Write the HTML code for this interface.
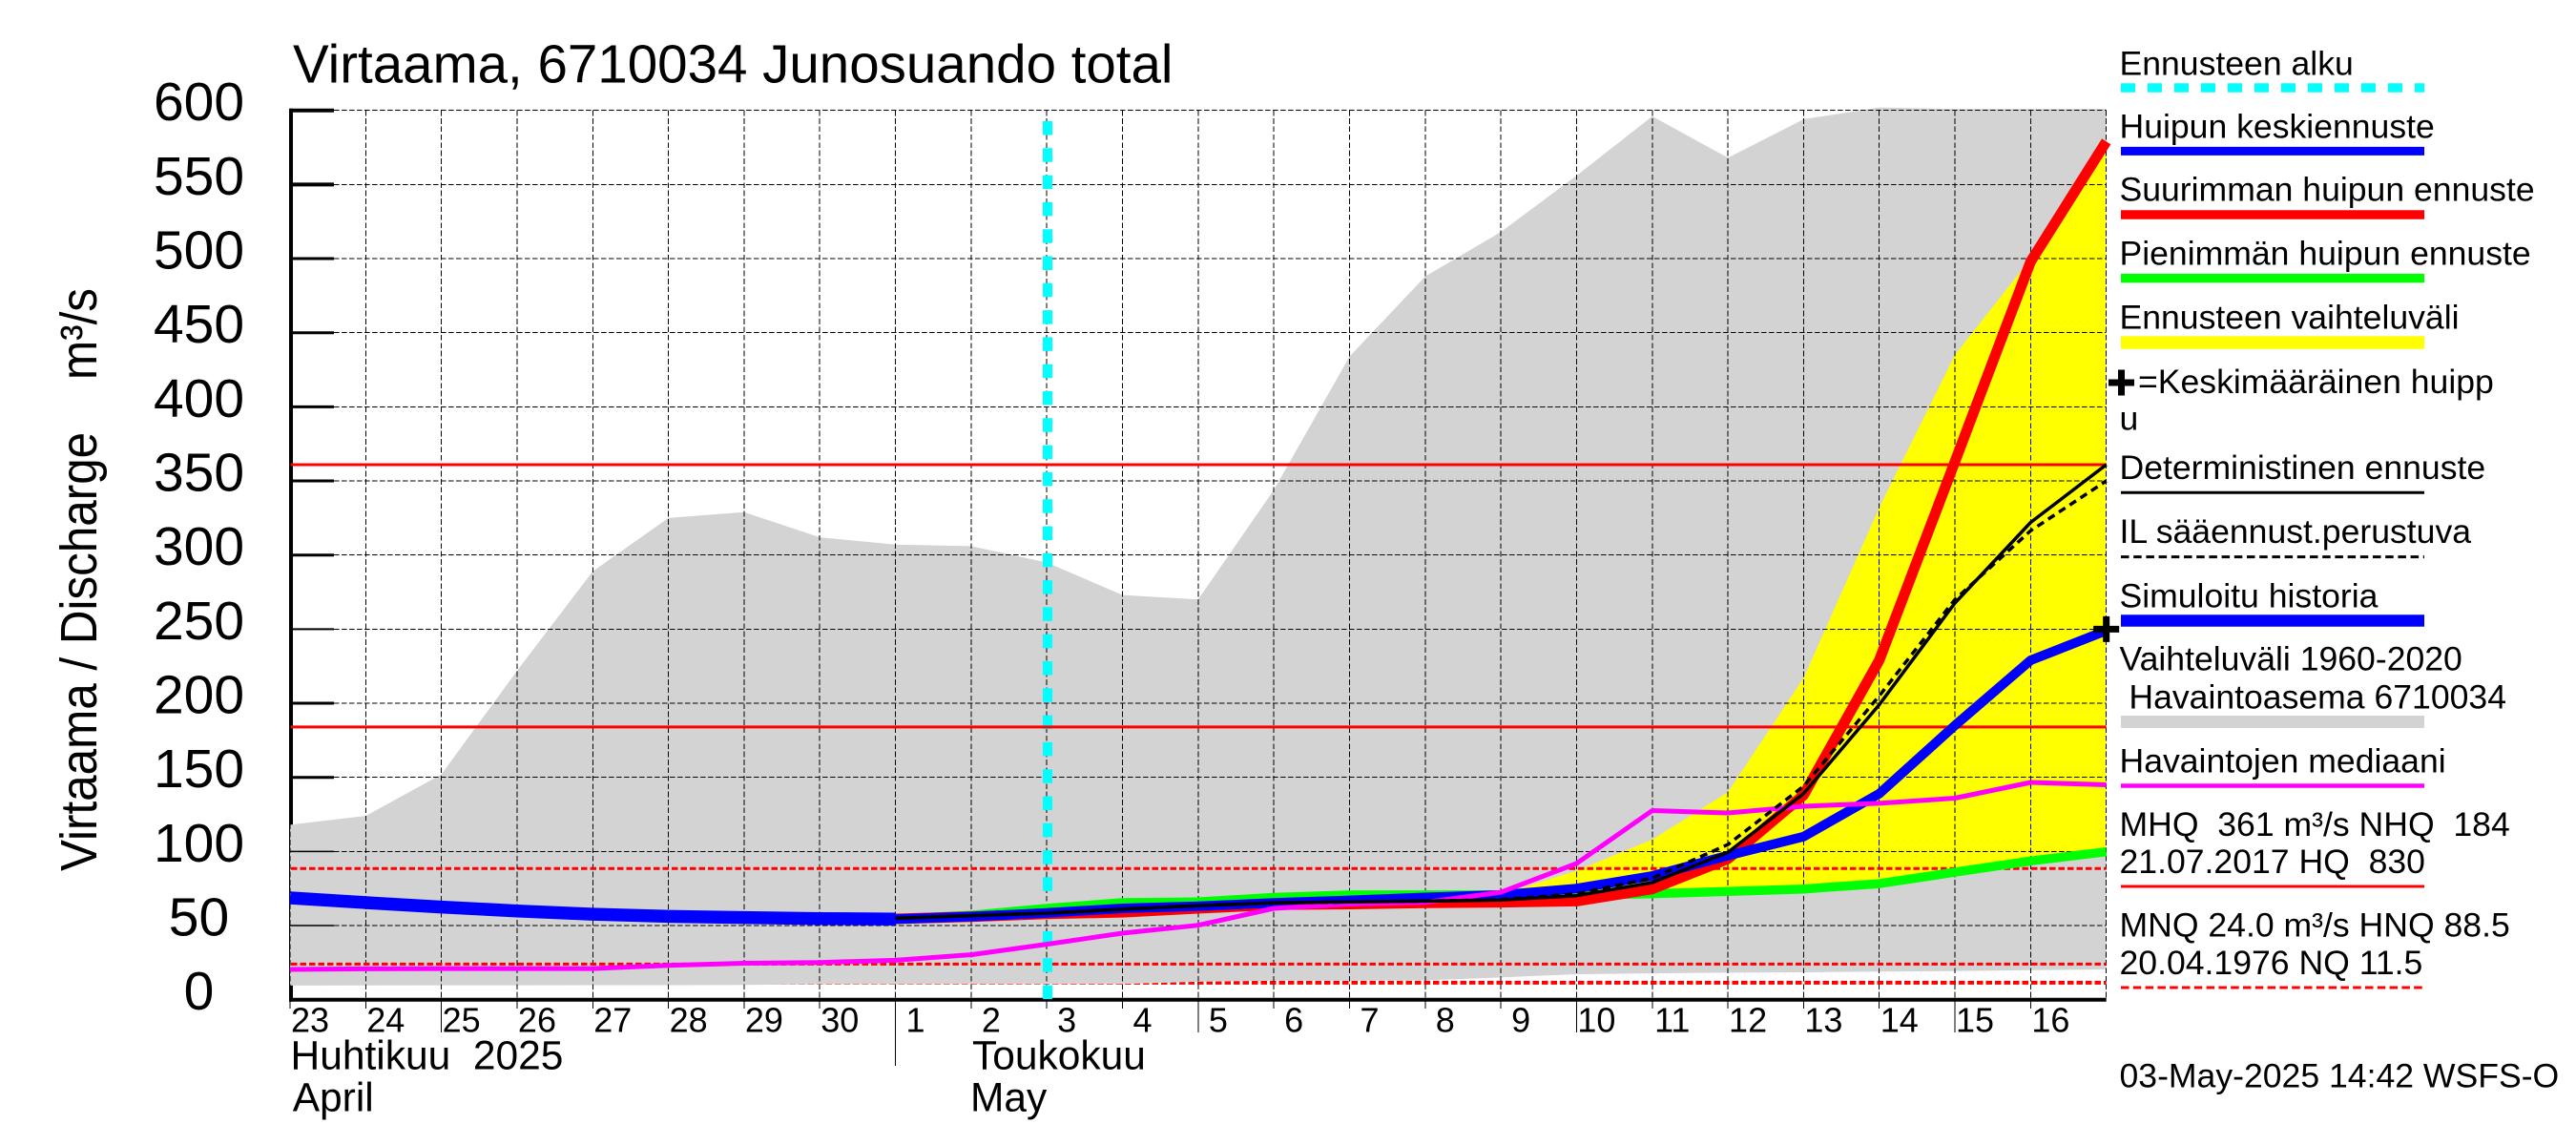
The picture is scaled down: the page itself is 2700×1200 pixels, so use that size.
<!DOCTYPE html>
<html lang="fi">
<head>
<meta charset="utf-8">
<title>Virtaama, 6710034 Junosuando total</title>
<style>
html,body{margin:0;padding:0;background:#fff;}
svg{display:block;}
text{font-family:"Liberation Sans",Arial,sans-serif;fill:#000;white-space:pre;}
.lg{font-size:35.6px;}
</style>
</head>
<body>
<svg id="chart" xmlns="http://www.w3.org/2000/svg" width="2700" height="1200" viewBox="0 0 2700 1200">
  <rect x="0" y="0" width="2700" height="1200" fill="#fff"/>
  <text x="307" y="86.7" font-size="56.5">Virtaama, 6710034 Junosuando total</text>
  <text transform="translate(101,913) rotate(-90)" font-size="54" textLength="611" lengthAdjust="spacingAndGlyphs">Virtaama / Discharge    m³/s</text>
  <g id="plot"></g>
  <g id="xlabels"></g>
  <g id="ylabels"></g>
  <text x="304.5" y="1120.5" font-size="42.5">Huhtikuu  2025</text>
  <text x="306.7" y="1164.5" font-size="42.5">April</text>
  <text x="1019" y="1120.5" font-size="42.5">Toukokuu</text>
  <text x="1017" y="1164.5" font-size="42.5">May</text>

  <g>
    <text class="lg" x="2221.5" y="78.5">Ennusteen alku</text>
    <line x1="2223" x2="2541" y1="92" y2="92" stroke="#00ffff" stroke-width="9.5" stroke-dasharray="15 13"/>
    <text class="lg" x="2221.5" y="144.7">Huipun keskiennuste</text>
    <line x1="2223" x2="2541" y1="158.4" y2="158.4" stroke="#0000ff" stroke-width="9"/>
    <text class="lg" x="2221.5" y="210.5">Suurimman huipun ennuste</text>
    <line x1="2223" x2="2541" y1="225" y2="225" stroke="#ff0000" stroke-width="9.5"/>
    <text class="lg" x="2221.5" y="277.5">Pienimmän huipun ennuste</text>
    <line x1="2223" x2="2541" y1="291.6" y2="291.6" stroke="#00ff00" stroke-width="9.5"/>
    <text class="lg" x="2221.5" y="344.4">Ennusteen vaihteluväli</text>
    <line x1="2223" x2="2541" y1="359" y2="359" stroke="#ffff00" stroke-width="13.4"/>
    <g>
      <rect x="2210" y="397.5" width="27" height="7" fill="#000"/>
      <rect x="2220" y="387.5" width="7" height="27" fill="#000"/>
    </g>
    <text class="lg" x="2241" y="412">=Keskimääräinen huipp</text>
    <text class="lg" x="2221.5" y="450.4">u</text>
    <text class="lg" x="2221.5" y="502">Deterministinen ennuste</text>
    <line x1="2223" x2="2541" y1="516.3" y2="516.3" stroke="#000" stroke-width="3"/>
    <text class="lg" x="2221.5" y="569">IL sääennust.perustuva</text>
    <line x1="2223" x2="2541" y1="583.6" y2="583.6" stroke="#000" stroke-width="3" stroke-dasharray="8.5 4.7"/>
    <text class="lg" x="2221.5" y="636.4">Simuloitu historia</text>
    <line x1="2223" x2="2541" y1="650.5" y2="650.5" stroke="#0000ff" stroke-width="12.6"/>
    <text class="lg" x="2221.5" y="702.6">Vaihteluväli 1960-2020</text>
    <text class="lg" x="2221.5" y="742.4"> Havaintoasema 6710034</text>
    <line x1="2223" x2="2541" y1="756.5" y2="756.5" stroke="#d3d3d3" stroke-width="13"/>
    <text class="lg" x="2221.5" y="809.3">Havaintojen mediaani</text>
    <line x1="2223" x2="2541" y1="823.5" y2="823.5" stroke="#ff00ff" stroke-width="4.6"/>
    <text class="lg" x="2221.5" y="876">MHQ  361 m³/s NHQ  184</text>
    <text class="lg" x="2221.5" y="915">21.07.2017 HQ  830</text>
    <line x1="2223" x2="2541" y1="929" y2="929" stroke="#ff0000" stroke-width="3"/>
    <text class="lg" x="2221.5" y="981.5">MNQ 24.0 m³/s HNQ 88.5</text>
    <text class="lg" x="2221.5" y="1021">20.04.1976 NQ 11.5</text>
    <line x1="2223" x2="2541" y1="1035" y2="1035" stroke="#ff0000" stroke-width="3" stroke-dasharray="8.5 4.3"/>
  </g>
  <text class="lg" x="2221.5" y="1139.6">03-May-2025 14:42 WSFS-O</text>
</svg>
<script>
// Day labels along the x axis (23 Apr .. 16 May); the plot runs to the start of 17 May.
const dayLabels = ['23','24','25','26','27','28','29','30','1','2','3','4','5','6','7','8','9','10','11','12','13','14','15','16'];
const yTickValues = [0,50,100,150,200,250,300,350,400,450,500,550,600];
const longTickDays = [2,12,17,22];
const monthSeparatorDays = [8];
const forecastStartDay = 10.01;
const highLevels = [361,184];
const lowLevels = [88.5,24];
const minLevel = [11.5];
const peakMarker = [250];

// Daily values, m3/s; null where a series has no data.
const rangeUpper = [118,124,152,222,289,325,329,312,307,306,295,273,270,344,434,488,518,556,596,568,594,602,601,601,601];
const rangeLower = [9.5,9.6,9.7,9.7,9.8,9.8,9.9,10.4,10.4,10.5,10.5,10.6,12.1,12.8,12.9,13,15,17.2,17.8,18.2,18.5,18.9,19.3,19.9,20.4];
const forecastUpper = [null,null,null,null,null,null,null,null,null,null,null,null,null,null,null,null,71,87,108,140,217,332,435,500,579];
const forecastLower = [null,null,null,null,null,null,null,null,null,null,null,null,null,null,null,null,70.7,70.5,71.5,73,74.7,78.3,86,93.6,99.8];
const simulatedHistory = [68.7,65.5,62.5,59.9,57.7,56.2,55.4,54.7,54.4,null,null,null,null,null,null,null,null,null,null,null,null,null,null,null,null];
const meanPeak = [null,null,null,null,null,null,null,null,54.4,56.1,58.6,61.6,63,65.3,67,69,70.6,75,83.5,97.2,110,139,185,229,249];
const highestPeak = [null,null,null,null,null,null,null,null,54.5,56,57.9,59,61.6,64,64.5,65.3,65.7,66.5,74.7,95,138,229,363,498,579];
const lowestPeak = [null,null,null,null,null,null,null,null,54.5,57,61.6,65.5,66,69,70.7,70.7,70.7,70.5,71.5,73,74.7,78.3,86,93.6,99.8];
const deterministic = [null,null,null,null,null,null,null,null,54.9,56.7,58.4,61,63.5,65.3,66,66.5,67.2,70.2,79,99.4,139,199,267.6,322,361];
const ilForecast = [null,null,null,null,null,null,null,null,54.9,56.7,58.4,61,63.5,65.3,66,66.5,67.5,71.4,82,104.7,144,205,270,316.4,350];
const median = [20.4,20.8,21,21,21,23.2,24.6,25.1,26.6,30.3,37.4,44.9,50.2,61.6,64.5,65.7,72.5,91.9,127.6,126,130.5,132.5,136,146.6,145];

const NS = 'http://www.w3.org/2000/svg';
const plot = document.getElementById('plot');
const xlabels = document.getElementById('xlabels');
const ylabels = document.getElementById('ylabels');

const plotLeft = 304, dayWidth = 79.32, plotBottom = 1047.7, unitHeight = 1.5533;
const lastDay = dayLabels.length;
function xScale(d){ return plotLeft + d * dayWidth; }
function yScale(v){ return plotBottom - v * unitHeight; }
const plotRight = xScale(lastDay);
const plotTop = yScale(600);

function make(tag, attrs, parent){
  const el = document.createElementNS(NS, tag);
  for (const k in attrs) el.setAttribute(k, attrs[k]);
  parent.appendChild(el);
  return el;
}
function pointsOf(values){
  const pts = [];
  values.forEach(function(v,i){ if (v !== null) pts.push(xScale(i).toFixed(1) + ',' + yScale(v).toFixed(1)); });
  return pts;
}
function drawLine(values, color, width, dash){
  const attrs = {points: pointsOf(values).join(' '), fill:'none', stroke:color, 'stroke-width':width, 'stroke-linejoin':'round'};
  if (dash) attrs['stroke-dasharray'] = dash;
  return make('polyline', attrs, plot);
}
function drawBand(upper, lower, color){
  const top = pointsOf(upper), bottom = pointsOf(lower).reverse();
  return make('polygon', {points: top.concat(bottom).join(' '), fill:color, stroke:'none'}, plot);
}
function drawLevel(v, color, width, dash){
  const attrs = {x1:plotLeft+1, x2:plotRight, y1:yScale(v), y2:yScale(v), stroke:color, 'stroke-width':width};
  if (dash) attrs['stroke-dasharray'] = dash;
  return make('line', attrs, plot);
}
function tickWidth(v){
  if (v <= 100) return 1.5;
  if (v === 250) return 2;
  return v >= 550 ? 4 : 3;
}

// Low-flow level and left axis sit under the historical range band.
minLevel.forEach(function(v){
  const el = drawLevel(v, '#ff0000', 4, '6.5 3');
  
  
});
const yAxis = make('line', {x1:305, x2:305, y1:plotTop-2, y2:plotBottom+2, stroke:'#000', 'stroke-width':4}, plot);



const rangeBand = drawBand(rangeUpper, rangeLower, '#d3d3d3');



const forecastBand = drawBand(forecastUpper, forecastLower, '#ffff00');



// Grid and ticks
yTickValues.forEach(function(v){
  const grid = make('line', {x1:350, x2:plotRight, y1:yScale(v), y2:yScale(v), stroke:'#000', 'stroke-width':1, 'stroke-dasharray':'5.3 2.7', 'shape-rendering':'crispEdges'}, plot);
  
  
  const tick = make('line', {x1:304, x2:350, y1:yScale(v), y2:yScale(v), stroke:'#000', 'stroke-width':tickWidth(v)}, plot);
  
  
  const label = make('text', {x:208.5, y:yScale(v)+10.5, 'font-size':57, 'text-anchor':'middle'}, ylabels);
  
  
  label.textContent = String(v);
});
for (let d = 0; d <= lastDay; d++){
  const grid = make('line', {x1:xScale(d), x2:xScale(d), y1:plotTop, y2:plotBottom, stroke:'#000', 'stroke-width':1, 'stroke-dasharray':'5.7 2.7', 'shape-rendering':'crispEdges'}, plot);
  
  
}
dayLabels.forEach(function(lbl,d){
  let tickEnd = 1057;
  if (longTickDays.indexOf(d) >= 0) tickEnd = 1082;
  if (monthSeparatorDays.indexOf(d) >= 0) tickEnd = 1117;
  const tick = make('line', {x1:xScale(d), x2:xScale(d), y1:plotBottom, y2:tickEnd, stroke:'#000', 'stroke-width':1, 'shape-rendering':'crispEdges'}, plot);
  
  
  const label = make('text', {x:xScale(d)+21, y:1081.7, 'font-size':36, 'text-anchor':'middle'}, xlabels);
  
  
  label.textContent = lbl;
});

const xAxis = make('line', {x1:303, x2:plotRight, y1:plotBottom, y2:plotBottom, stroke:'#000', 'stroke-width':4}, plot);



// Reference levels below the forecast start marker
lowLevels.forEach(function(v){
  const el = drawLevel(v, '#ff0000', 3, '6.5 3');
  
  
});

// Forecast start marker
const startLine = make('line', {x1:xScale(forecastStartDay), x2:xScale(forecastStartDay), y1:127, y2:plotBottom, stroke:'#00ffff', 'stroke-width':10, 'stroke-dasharray':'14.5 13.8'}, plot);



highLevels.forEach(function(v){
  const el = drawLevel(v, '#ff0000', 3);
  
  
});

// Series
const lowestLine = drawLine(lowestPeak, '#00ff00', 9.5);



const highestLine = drawLine(highestPeak, '#ff0000', 11);



const meanLine = drawLine(meanPeak, '#0000ff', 10);



const historyLine = drawLine(simulatedHistory, '#0000ff', 13.5);



const medianLine = drawLine(median, '#ff00ff', 5);



const detLine = drawLine(deterministic, '#000', 3.5);



const ilLine = drawLine(ilForecast, '#000', 3.5, '8 5.5');



// Average peak marker
peakMarker.forEach(function(v){
  const px = plotRight, py = yScale(v);
  const h = make('rect', {x:px-13.5, y:py-3.5, width:27, height:7, fill:'#000'}, plot);
  
  
  const w = make('rect', {x:px-3.5, y:py-13.5, width:7, height:27, fill:'#000'}, plot);
  
  
});
</script>
</body>
</html>
